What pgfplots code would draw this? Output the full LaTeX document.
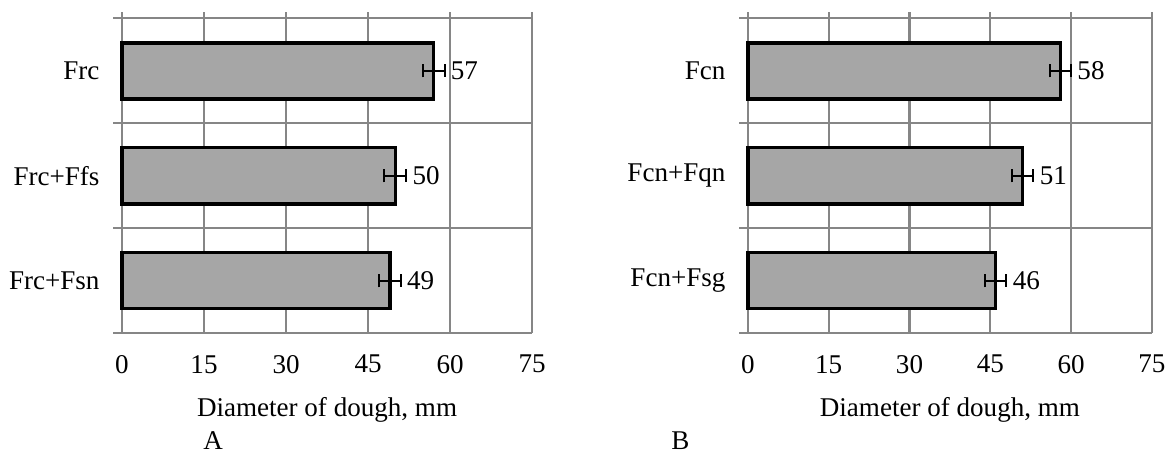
\documentclass[border=0pt]{standalone}
\usepackage{fontspec}
\setmainfont{Liberation Serif}
\usepackage{pgfplots}
\pgfplotsset{compat=1.18}

\definecolor{barfill}{RGB}{166,166,166}
\definecolor{gridc}{RGB}{134,134,134}
\newcommand{\lblfont}{\fontsize{12.3}{14}\selectfont}

\pgfplotsset{
  panel/.style={
    scale only axis, height=145.9pt,
    xbar, bar width=0.535,
    xmin=0, xmax=75, ymin=-0.5, ymax=2.56,
    xtick={0,15,...,75},
    ytick={0,1,2},
    minor ytick={-0.5,0.5,1.5,2.5},
    xmajorgrids, yminorgrids, ymajorgrids=false,
    grid style={gridc, line width=1pt},
    axis line style={draw=none},
    major tick length=0pt, minor tick length=4pt,
    tick align=outside, ytick pos=left, xtick pos=left,
    minor tick style={gridc, line width=1pt},
    /pgf/number format/assume math mode=true,
    tick label style={font=\lblfont},
    xticklabel style={yshift=-6.5pt},
    yticklabel style={xshift=-6.7pt},
    xlabel={Diameter of dough, mm},
    xlabel style={at={(axis description cs:0.5,0)}, anchor=base, yshift=-37.7pt, font=\lblfont},
    nodes near coords,
    point meta=x,
    nodes near coords style={anchor=west, xshift=7pt, inner sep=0pt, font=\lblfont, text=black},
    clip=false,
  },
  barstyle/.style={
    fill=barfill, draw=black, line width=1.6pt,
    error bars/.cd, x dir=both, x explicit,
    error bar style={black, line width=0.9pt},
    error mark options={black, line width=0.9pt, mark size=3pt, rotate=90},
  },
}

\begin{document}
\begin{tikzpicture}
  \path (-55.45pt,-55pt) rectangle (477.7pt,151.4pt);

  \begin{axis}[panel, width=186.4pt, at={(0pt,0pt)}, anchor=south west,
      yticklabels={Frc+Fsn,Frc+Ffs,Frc}]
    \addplot[barstyle] coordinates {
      (49,0) +- (2,0)
      (50,1) +- (2,0)
      (57,2) +- (2,0)
    };
  \end{axis}

  \begin{axis}[panel, width=183.6pt, at={(284.5pt,0pt)}, anchor=south west,
      yticklabels={Fcn+Fsg,Fcn+Fqn,Fcn}]
    \addplot[barstyle] coordinates {
      (46,0) +- (2,0)
      (51,1) +- (2,0)
      (58,2) +- (2,0)
    };
  \end{axis}

  \node[anchor=base west, font=\lblfont, inner sep=0pt] at (36.8pt,-53pt) {A};
  \node[anchor=base west, font=\lblfont, inner sep=0pt] at (249.5pt,-53pt) {B};
\end{tikzpicture}
\end{document}
